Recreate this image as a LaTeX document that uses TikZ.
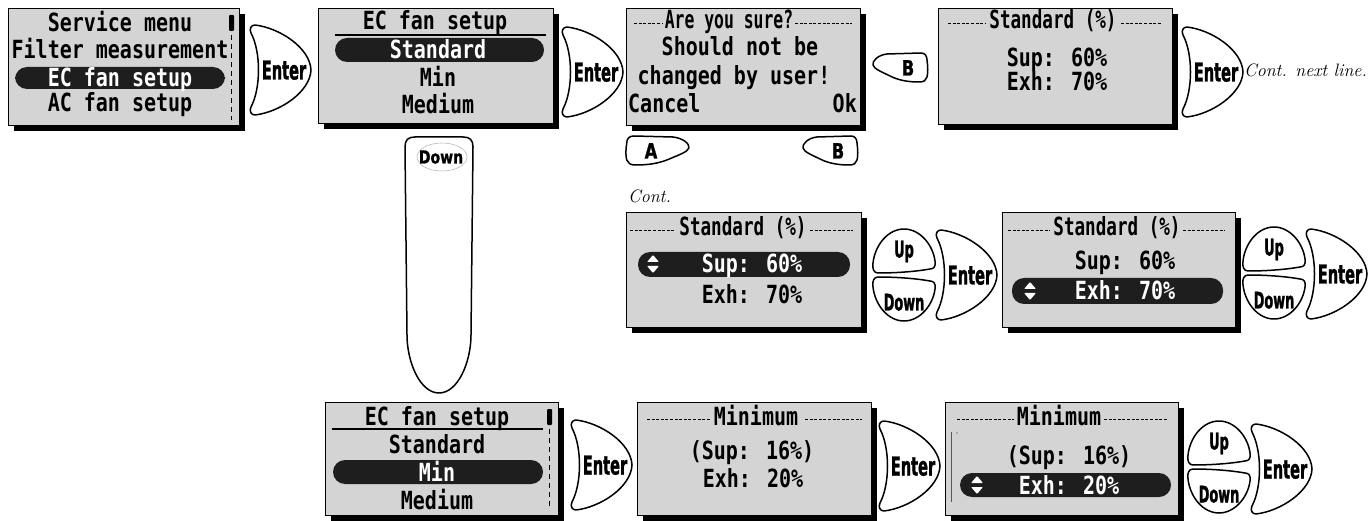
\documentclass[tikz,border=0pt]{standalone}
\usepackage{fontspec}
\usepackage{graphicx}
\newfontfamily\lcdf[FakeStretch=0.8]{DejaVu Sans Mono Bold}
\newfontfamily\btnf[FakeStretch=0.56, FakeBold=1.2]{DejaVu Sans Bold}
\newfontfamily\btnwf[FakeStretch=0.78, FakeBold=1]{DejaVu Sans Bold}
\definecolor{lcdbg}{RGB}{212,212,213}
\definecolor{pillc}{RGB}{30,30,30}
\newcommand{\lcdscreen}[5]{%
  \fill[black] (#2+6,#3+6) rectangle (#2+6+#4,#3+6+#5);
  \node[scr, anchor=north west, minimum width=#4pt, minimum height=#5pt, inner sep=0pt] (#1) at (#2,#3) {};}
\newcommand{\udicon}[2]{%
  \fill[white, rounded corners=0.8pt] (#1-6,#2-2) -- (#1+6,#2-2) -- (#1,#2-9) -- cycle;
  \fill[white, rounded corners=0.8pt] (#1-6,#2+2) -- (#1+6,#2+2) -- (#1,#2+9) -- cycle;}
\tikzset{
  scr/.style={draw=black, line width=1.3pt, fill=lcdbg},
  btn/.style={draw=black, line width=1.5pt, fill=white, line join=round},
  lcd/.style={font=\lcdf\fontsize{25}{25}\selectfont, inner sep=0pt, text height=18pt, text depth=0pt},
  lcdw/.style={lcd, text=white},
  pill/.style={fill=pillc, rounded corners=12pt},
  ttl/.style={black, line width=0.9pt, dash pattern=on 3pt off 1.6pt},
  btxt/.style={font=\btnf\fontsize{26}{26}\selectfont, inner sep=0pt, text height=19pt, text depth=0pt},
  bsm/.style={font=\btnf\fontsize{23}{23}\selectfont, inner sep=0pt, text height=17pt, text depth=0pt},
  bltr/.style={font=\btnwf\fontsize{21}{21}\selectfont, inner sep=0pt, text height=15pt, text depth=0pt},
  note/.style={font=\itshape\fontsize{18}{19}\selectfont, inner sep=0pt, anchor=west},
  enterbtn/.pic={
    \draw[btn] (5,-45) .. controls (1,-45) and (-1,-41) .. (1,-37)
      .. controls (11,-18) and (11,18) .. (1,37)
      .. controls (-1,41) and (1,45) .. (5,45)
      .. controls (30,42) and (60,22) .. (61,0)
      .. controls (60,-22) and (30,-42) .. (5,-45) -- cycle;
    \node[btxt] (-t) at (34,0) {Enter};},
  upbtn/.pic={
    \draw[btn] (5,-2) .. controls (1,-2) and (-1,-6) .. (0,-12)
      .. controls (2,-30) and (15,-46) .. (31,-46)
      .. controls (47,-46) and (60,-30) .. (62,-14)
      .. controls (63,-9) and (61,-6) .. (57,-6)
      .. controls (40,-3) and (20,-2) .. (5,-2) -- cycle;
    \node[bsm] (-t) at (31,-26) {Up};},
  downbtn/.pic={
    \draw[btn] (5,2) .. controls (1,2) and (-1,6) .. (0,12)
      .. controls (2,30) and (15,46) .. (31,46)
      .. controls (47,46) and (60,30) .. (62,14)
      .. controls (63,9) and (61,6) .. (57,6)
      .. controls (40,3) and (20,2) .. (5,2) -- cycle;
    \node[bsm] (-t) at (31,27) {Down};},
  bbtn/.pic={
    \draw[btn] (15,1) -- (49,0) .. controls (53,0) and (55,3) .. (55,7)
      .. controls (56,14) and (56,20) .. (55,24)
      .. controls (54,27) and (52,29) .. (48,29)
      .. controls (38,29) and (28,28) .. (18,23)
      .. controls (10,19) and (2,16) .. (1,12)
      .. controls (0,8) and (6,2) .. (15,1) -- cycle;}
}
\begin{document}
\begin{tikzpicture}[x=1pt,y=-1pt]
\fill[white] (0,0) rectangle (1368,521);
\useasboundingbox (0,0) rectangle (1368,521);

% ---------- Screen 1
\lcdscreen{s1}{8}{8}{231}{117}
\node[lcd] (s1a) at (120,23) {Service menu};
\node[lcd] (s1b) at (120,50) {Filter measurement};
\fill[pill] (15,67) rectangle (225,89);
\node[lcdw] (s1c) at (120,78) {EC fan setup};
\node[lcd] (s1d) at (120,103) {AC fan setup};
\fill[black, rounded corners=1pt] (229,15) rectangle (234,31);
\draw[line width=1pt, dash pattern=on 5pt off 4pt] (231.5,35) -- (231.5,120);

% ---------- Screen 2
\lcdscreen{s2}{318}{8}{235}{115}
\node[lcd] (s2a) at (435,21) {EC fan setup};
\draw[line width=1.2pt] (335,35) -- (546,35);
\fill[pill] (335,38) rectangle (544,62);
\node[lcdw] (s2b) at (438,50) {Standard};
\node[lcd] (s2c) at (438,78) {Min};
\node[lcd] (s2d) at (438,105) {Medium};

% ---------- Screen 3
\lcdscreen{s3}{626}{8}{234}{117}
\node[lcd] (s3a) at (729,20) {\scalebox{0.82}[1]{Are you sure?}};
\draw[ttl] (634,23) -- (663,23);
\draw[ttl] (795,23) -- (852,23);
\node[lcd] (s3b) at (740,47) {Should not be};
\node[lcd] (s3c) at (734,76) {changed by user!};
\node[lcd, anchor=west] (s3d) at (628,104) {Cancel};
\node[lcd, anchor=east] (s3e) at (857,104) {Ok};

% ---------- Screen 4
\lcdscreen{s4}{938}{8}{234}{116}
\node[lcd] (s4a) at (1053,20) {\scalebox{0.88}[1]{Standard (\%)}};
\draw[ttl] (948,23) -- (985,23);
\draw[ttl] (1121,23) -- (1162,23);
\node[lcd] (s4b) at (1057,58) {Sup: 60\%};
\node[lcd] (s4c) at (1057,82) {Exh: 70\%};

% ---------- Screen 5
\lcdscreen{s5}{626}{212}{235}{115}
\node[lcd] (s5a) at (743,227) {\scalebox{0.88}[1]{Standard (\%)}};
\draw[ttl] (630,230) -- (675,230);
\draw[ttl] (810,230) -- (853,230);
\fill[pill] (638,252) rectangle (850,277);
\udicon{653}{264}
\node[lcdw] (s5b) at (752,264) {Sup: 60\%};
\node[lcd] (s5c) at (752,295) {Exh: 70\%};

% ---------- Screen 6
\lcdscreen{s6}{1002}{212}{233}{115}
\node[lcd] (s6a) at (1117,227) {\scalebox{0.88}[1]{Standard (\%)}};
\draw[ttl] (1008,230) -- (1050,230);
\draw[ttl] (1183,230) -- (1225,230);
\node[lcd] (s6b) at (1125,261) {Sup: 60\%};
\fill[pill] (1012,278) rectangle (1223,304);
\udicon{1030}{291}
\node[lcdw] (s6c) at (1125,291) {Exh: 70\%};

% ---------- Screen 7
\lcdscreen{s7}{325}{402}{233}{113}
\node[lcd] (s7a) at (437,416) {EC fan setup};
\draw[line width=1.2pt] (332,429) -- (543,429);
\node[lcd] (s7b) at (437,444) {Standard};
\fill[pill] (333,460) rectangle (543,484);
\node[lcdw] (s7c) at (437,472) {Min};
\node[lcd] (s7d) at (437,500) {Medium};
\fill[black, rounded corners=1pt] (547,409) rectangle (552,425);
\draw[line width=1pt, dash pattern=on 5pt off 4pt] (549.5,429) -- (549.5,510);

% ---------- Screen 8
\lcdscreen{s8}{637}{402}{234}{113}
\node[lcd] (s8a) at (756,416) {Minimum};
\draw[ttl] (647,419) -- (710,419);
\draw[ttl] (805,419) -- (862,419);
\node[lcd] (s8b) at (752,450) {(Sup: 16\%)};
\node[lcd] (s8c) at (753,478) {Exh: 20\%};

% ---------- Screen 9
\lcdscreen{s9}{945}{402}{233}{113}
\node[lcd] (s9a) at (1059,416) {Minimum};
\draw[ttl] (957,419) -- (1014,419);
\draw[ttl] (1104,419) -- (1168,419);
\draw[gray!70!black, line width=0.8pt] (951,432) -- (951,502);
\fill[gray] (957,433) circle (0.8);
\node[lcd] (s9b) at (1069,455) {(Sup: 16\%)};
\fill[pill] (960,473) rectangle (1171,497);
\udicon{977}{485}
\node[lcdw] (s9c) at (1069,485) {Exh: 20\%};

% ---------- Enter buttons
\pic (e1) at (250,70) {enterbtn};
\pic (e2) at (562,72) {enterbtn};
\pic (e4) at (1182,72) {enterbtn};
\pic (e7) at (571,465) {enterbtn};
\pic (e8) at (879,466) {enterbtn};

% ---------- Up/Down/Enter clusters
\pic (u1) at (873,275) {upbtn};
\pic (d1) at (873,275) {downbtn};
\pic (c1) at (936,275) {enterbtn};
\pic (u2) at (1243,273) {upbtn};
\pic (d2) at (1243,273) {downbtn};
\pic (c2) at (1306,274) {enterbtn};
\pic (u3) at (1188,467) {upbtn};
\pic (d3) at (1188,467) {downbtn};
\pic (c3) at (1251,469) {enterbtn};

% ---------- A / B buttons
\pic (b1) at (872,53) {bbtn};
\node[bltr] (b1t) at (908,68) {B};
\pic (b2) at (802,136) {bbtn};
\node[bltr] (b2t) at (838,151) {B};
\pic[xscale=-1.15] (a1) at (690,136) {bbtn};
\node[bltr] (a1t) at (651,151) {A};

% ---------- tall Down button
\draw[btn] (415,137) -- (463,137) .. controls (470,137) and (473,140) .. (473,147)
  -- (471,335) .. controls (471,362) and (458,393) .. (439,393)
  .. controls (420,393) and (407,362) .. (407,335) -- (405,147)
  .. controls (405,140) and (408,137) .. (415,137) -- cycle;
\draw[gray!55, line width=0.6pt] (442,157) ellipse (25 and 14);
\node[font=\btnwf\fontsize{18}{18}\selectfont, inner sep=0pt, text height=13pt, text depth=0pt] (tdn) at (441,157) {Down};

% ---------- notes
\node[note] (n1) at (1244,70) {Cont. next line.};
\node[note] (n2) at (628,196) {Cont.};
\end{tikzpicture}
\end{document}
